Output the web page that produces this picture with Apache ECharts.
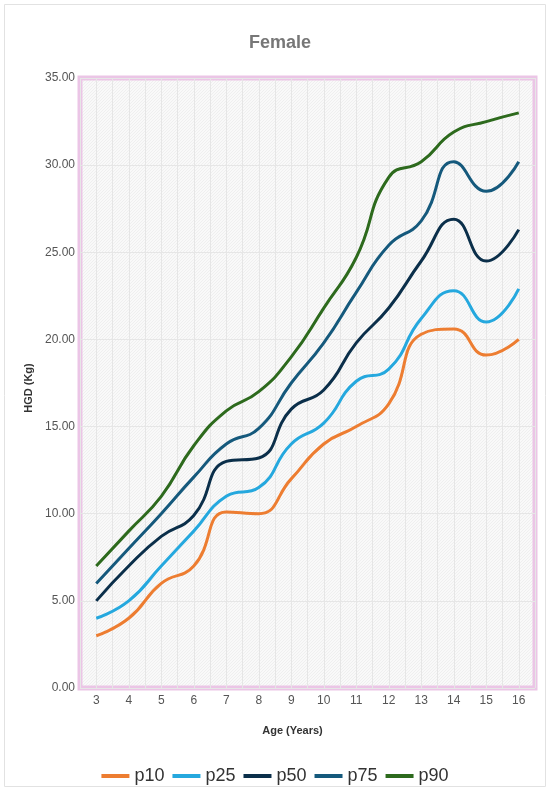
<!DOCTYPE html>
<html>
<head>
<meta charset="utf-8">
<title>Female</title>
<script src="https://cdn.jsdelivr.net/npm/echarts@6/dist/echarts.min.js"></script>
<style>
  html, body { margin: 0; padding: 0; background: #fff; }
  #chart { width: 550px; height: 791px; }
</style>
</head>
<body>
<div id="chart"></div>
<script>
// ages on the x axis
var ages = ['3', '4', '5', '6', '7', '8', '9', '10', '11', '12', '13', '14', '15', '16'];

// percentile curves (Kg)
var p10 = [3.0, 4.0, 6.0, 7.0, 10.1, 10.0, 12.0, 14.0, 15.0, 16.3, 20.3, 20.6, 19.1, 20.0];
var p25 = [4.0, 5.0, 7.0, 9.0, 11.0, 11.5, 14.0, 15.2, 17.6, 18.3, 21.2, 22.8, 21.0, 22.9];
var p50 = [5.0, 7.0, 8.7, 9.9, 13.0, 13.2, 16.0, 17.1, 19.8, 21.8, 24.5, 26.9, 24.5, 26.3];
var p75 = [6.0, 8.0, 10.0, 12.1, 14.0, 14.9, 17.5, 19.8, 22.7, 25.4, 26.8, 30.2, 28.5, 30.2];
var p90 = [7.0, 9.0, 11.0, 13.9, 15.9, 17.0, 19.0, 21.8, 24.7, 29.3, 30.2, 31.9, 32.5, 33.0];

var seriesNames = ['p10', 'p25', 'p50', 'p75', 'p90'];
var seriesData = [p10, p25, p50, p75, p90];
var colors = ['#ed7d31', '#25a8de', '#0b2f4a', '#15597c', '#2d6a1d'];

var font = '"Liberation Sans", Arial, Helvetica, sans-serif';

// light hatched texture for the plot background
function makeHatch() {
    var c = document.createElement('canvas');
    c.width = 3;
    c.height = 3;
    var ctx = c.getContext('2d');
    ctx.fillStyle = '#f9f9f9';
    ctx.fillRect(0, 0, 3, 3);
    ctx.fillStyle = '#efefef';
    ctx.fillRect(0, 2, 1, 1);
    ctx.fillRect(1, 1, 1, 1);
    ctx.fillRect(2, 0, 1, 1);
    return c;
}

var chart = echarts.init(document.getElementById('chart'));

var series = seriesNames.map(function (name, i) {
    return {
        name: name,
        type: 'line',
        data: seriesData[i],
        smooth: true,
        symbol: 'none',
        lineStyle: { width: 3, color: colors[i] },
        itemStyle: { color: colors[i] },
        z: 3
    };
});

chart.setOption({
    animation: false,
    textStyle: { fontFamily: font },
    title: {
        text: 'Female',
        left: 275,
        textAlign: 'center',
        top: 29,
        textStyle: { fontSize: 18, fontWeight: 'bold', color: '#777777', fontFamily: font }
    },
    graphic: [{
        type: 'rect',
        shape: { x: 4.5, y: 4.5, width: 541, height: 782 },
        style: { fill: 'none', stroke: '#e2e2e2', lineWidth: 1 },
        silent: true
    }],
    legend: {
        data: seriesNames,
        left: 'center',
        top: 762,
        icon: 'rect',
        itemWidth: 28,
        itemHeight: 4,
        itemGap: 8,
        textStyle: { fontSize: 18, color: '#333333', fontFamily: font }
    },
    grid: {
        left: 80,
        right: 15,
        top: 78,
        bottom: 103,
        show: true,
        borderColor: '#ebc5e6',
        borderWidth: 5,
        backgroundColor: { image: makeHatch(), repeat: 'repeat' }
    },
    xAxis: [{
        type: 'category',
        data: ages,
        boundaryGap: true,
        name: 'Age (Years)',
        nameLocation: 'middle',
        nameGap: 37,
        nameTextStyle: { fontSize: 11, fontWeight: 'bold', color: '#333333', padding: [0, 30, 0, 0] },
        axisLine: { show: false },
        axisTick: { show: false },
        axisLabel: { fontSize: 12, color: '#555555', margin: 7 },
        splitLine: { show: false }
    }, {
        // texture of thin vertical lines across the plot
        type: 'value',
        min: 0,
        max: 28,
        interval: 1,
        show: true,
        position: 'bottom',
        axisLine: { show: false },
        axisTick: { show: false },
        axisLabel: { show: false },
        splitLine: { show: true, lineStyle: { color: '#e6e6e6', width: 1 } }
    }],
    yAxis: {
        type: 'value',
        min: 0,
        max: 35,
        interval: 5,
        name: 'HGD (Kg)',
        nameLocation: 'middle',
        nameGap: 43,
        nameRotate: 90,
        nameTextStyle: { fontSize: 11, fontWeight: 'bold', color: '#333333', padding: [0, 10, 0, 0] },
        axisLine: { show: false },
        axisTick: { show: false },
        axisLabel: {
            fontSize: 12,
            color: '#555555',
            margin: 5,
            formatter: function (v) { return v.toFixed(2); }
        },
        splitLine: { show: true, lineStyle: { color: '#e6e6e6', width: 1 } }
    },
    series: series
});
</script>
</body>
</html>
